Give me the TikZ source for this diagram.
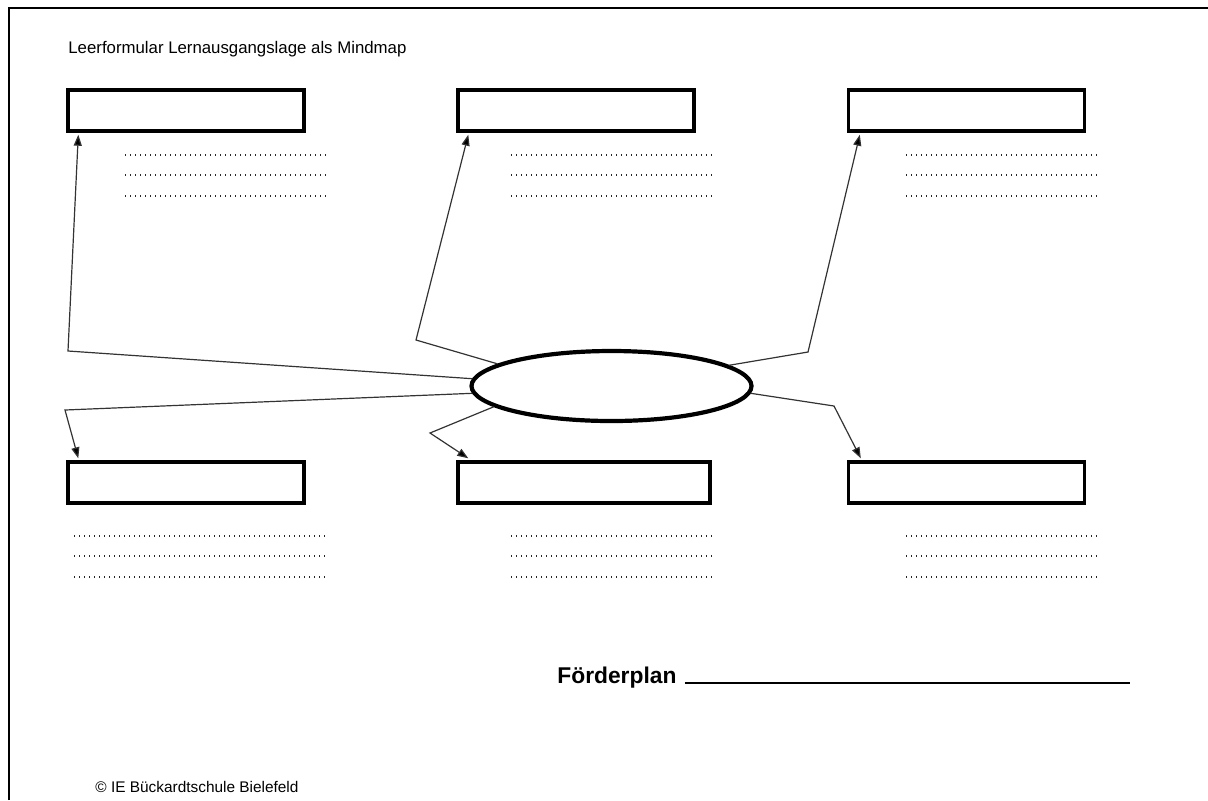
\documentclass[tikz,border=0pt]{standalone}
\usepackage{fontspec}
\setmainfont{Liberation Sans}
\usetikzlibrary{arrows.meta,positioning,shapes.geometric,calc}

\begin{document}
\begin{tikzpicture}[x=0.5pt,y=-0.5pt,
  fieldbox/.style={draw,line width=1.7pt,minimum width=118pt,minimum height=20.5pt,inner sep=0pt},
  hubnode/.style={draw,ellipse,line width=2.1pt,minimum width=140pt,minimum height=35pt,inner sep=0pt},
  conn/.style={line width=0.6pt,black!80},
  arr/.style={conn,-{Triangle[length=5.5pt,width=4pt,fill=black]}},
  dotline/.style={line width=0.9pt,black!85,dash pattern=on 0.7pt off 1.8pt},
  lbl/.style={inner sep=0pt,anchor=base west}
]
  \useasboundingbox (0,0) rectangle (1208,800);
  % frame
  \draw[line width=1pt] (9,800) -- (9,8) -- (1208,8);
  \node[lbl,font=\fontsize{8.4}{10}\selectfont] (title) at (68,53) {Leerformular Lernausgangslage als Mindmap};

  % topic boxes
  \node[fieldbox] (b1) at (186,110.5) {};
  \node[fieldbox] (b2) at (576,110.5) {};
  \node[fieldbox] (b3) at (966.5,110.5) {};
  \node[fieldbox] (b4) at (186,482.5) {};
  \node[fieldbox,minimum width=126pt] (b5) at (584,482.5) {};
  \node[fieldbox] (b6) at (966.5,482.5) {};

  % centre
  \node[hubnode] (hub) at (611.5,386) {};

  % writing lines
  \foreach \xa/\xb in {125/327,511/712,906/1097}
    \foreach \yy in {155,175,196}
      \draw[dotline] (\xa,\yy) -- (\xb,\yy);
  \foreach \xa/\xb in {74/327,511/712,906/1097}
    \foreach \yy in {536,556,577}
      \draw[dotline] (\xa,\yy) -- (\xb,\yy);

  % branches
  \coordinate (k1) at (68,351);
  \coordinate (k2) at (416,340);
  \coordinate (k3) at (808,352);
  \coordinate (k4) at (65,410);
  \coordinate (k5) at (430,433);
  \coordinate (k6) at (834,406);
  \draw[arr] (hub.177) -- (k1) -- ([xshift=6pt,yshift=-1pt]b1.south west);
  \draw[arr] (hub.169) -- (k2) -- ([xshift=6pt,yshift=-1pt]b2.south west);
  \draw[arr] (hub.10) -- (k3) -- ([xshift=6.5pt,yshift=-1pt]b3.south west);
  \draw[arr] (hub.183) -- (k4) -- ([xshift=6pt,yshift=1pt]b4.north west);
  \draw[arr] (hub.190) -- (k5) -- ([xshift=6pt,yshift=1pt]b5.north west);
  \draw[arr] (hub.357) -- (k6) -- ([xshift=7pt,yshift=1pt]b6.north west);

  % footer
  \node[lbl,font=\bfseries\fontsize{11.4}{13}\selectfont] (plan) at (557,683) {Förderplan};
  \draw[line width=1pt] ([xshift=4pt]plan.base east) -- (1130,683);
  \node[lbl,font=\fontsize{7.7}{9}\selectfont] (copy) at (95,792) {© IE Bückardtschule Bielefeld};
\end{tikzpicture}
\end{document}
